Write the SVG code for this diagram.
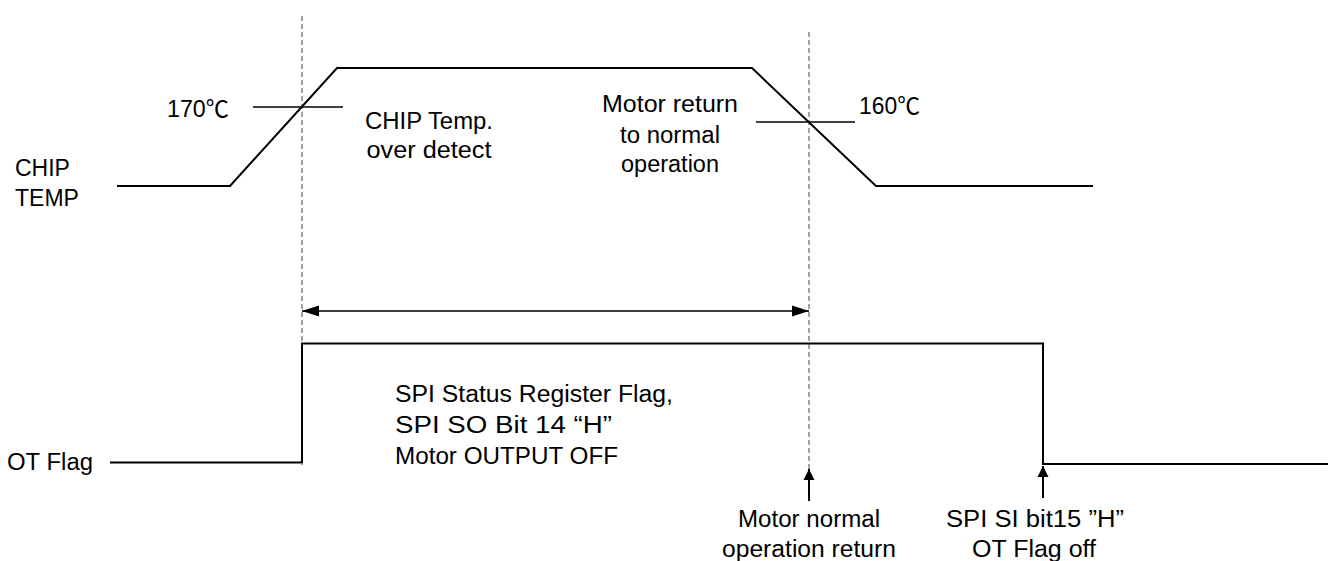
<svg xmlns="http://www.w3.org/2000/svg" width="1328" height="561" viewBox="0 0 1328 561">
<style>
  .wave { fill: none; stroke: #000; stroke-width: 2; stroke-linejoin: miter; }
  .thr { fill: none; stroke: #000; stroke-width: 1.6; }
  .dash { fill: none; stroke: #666; stroke-width: 1.2; stroke-dasharray: 5 3; }
  .dim { fill: none; stroke: #000; stroke-width: 1.3; }
  .up { fill: none; stroke: #000; stroke-width: 2; }
  text { font-family: "Liberation Sans", "Noto Sans CJK JP", sans-serif; font-size: 23px; fill: #000; }
  .c { text-anchor: middle; }
</style>
<defs>
  <marker id="ah" markerUnits="userSpaceOnUse" markerWidth="18" markerHeight="12" refX="17" refY="6" orient="auto-start-reverse" viewBox="0 0 18 12">
    <path d="M0,0.5 L17,6 L0,11.5 Z" fill="#000"/>
  </marker>
  <marker id="ahu" markerUnits="userSpaceOnUse" markerWidth="12" markerHeight="12" refX="11" refY="5.5" orient="auto" viewBox="0 0 12 11">
    <path d="M0,0 L11,5.5 L0,11 Z" fill="#000"/>
  </marker>
</defs>

<g id="guides">
  <line class="dash" x1="302" y1="16" x2="302" y2="465"/>
  <line class="dash" x1="809" y1="32" x2="809" y2="470"/>
</g>

<g id="chip-temp">
  <text x="15" y="176">CHIP</text>
  <text x="15" y="206">TEMP</text>
  <polyline class="wave" points="117,186 230,186 337,68 752,68 876,186 1093,186"/>
</g>

<g id="threshold-170">
  <line class="thr" x1="253" y1="107" x2="343" y2="107"/>
  <text x="167" y="117" textLength="62" lengthAdjust="spacingAndGlyphs">170℃</text>
</g>

<g id="threshold-160">
  <line class="thr" x1="756" y1="122" x2="855" y2="122"/>
  <text x="859" y="114" textLength="61" lengthAdjust="spacingAndGlyphs">160℃</text>
</g>

<g id="label-over-detect">
  <text class="c" x="429" y="129" textLength="128" lengthAdjust="spacingAndGlyphs">CHIP Temp.</text>
  <text class="c" x="429" y="158" textLength="125" lengthAdjust="spacingAndGlyphs">over detect</text>
</g>

<g id="label-motor-return">
  <text class="c" x="670" y="112" textLength="136" lengthAdjust="spacingAndGlyphs">Motor return</text>
  <text class="c" x="670" y="143" textLength="100" lengthAdjust="spacingAndGlyphs">to normal</text>
  <text class="c" x="670" y="172" textLength="98" lengthAdjust="spacingAndGlyphs">operation</text>
</g>

<g id="ot-flag">
  <text x="7" y="470" textLength="86" lengthAdjust="spacingAndGlyphs">OT Flag</text>
  <polyline class="wave" points="110,462.5 302,462.5 302,343.5 1043,343.5 1043,464 1328,464"/>
</g>

<g id="label-status">
  <text x="395" y="402" textLength="278" lengthAdjust="spacingAndGlyphs">SPI Status Register Flag,</text>
  <text x="395" y="433" textLength="217" lengthAdjust="spacingAndGlyphs">SPI SO Bit 14 “H”</text>
  <text x="395" y="464" textLength="223" lengthAdjust="spacingAndGlyphs">Motor OUTPUT OFF</text>
</g>

<g id="label-normal-return">
  <text class="c" x="809" y="527" textLength="142" lengthAdjust="spacingAndGlyphs">Motor normal</text>
  <text class="c" x="809" y="557" textLength="174" lengthAdjust="spacingAndGlyphs">operation return</text>
</g>

<g id="label-flag-off">
  <text class="c" x="1035" y="527" textLength="178" lengthAdjust="spacingAndGlyphs">SPI SI bit15 ”H”</text>
  <text class="c" x="1034" y="557" textLength="124" lengthAdjust="spacingAndGlyphs">OT Flag off</text>
</g>

<g id="connectors">
  <line class="dim" x1="302" y1="311" x2="809" y2="311" marker-start="url(#ah)" marker-end="url(#ah)"/>
  <line class="up" x1="809" y1="501" x2="809" y2="469" marker-end="url(#ahu)"/>
  <line class="up" x1="1043" y1="498" x2="1043" y2="466" marker-end="url(#ahu)"/>
</g>
</svg>
